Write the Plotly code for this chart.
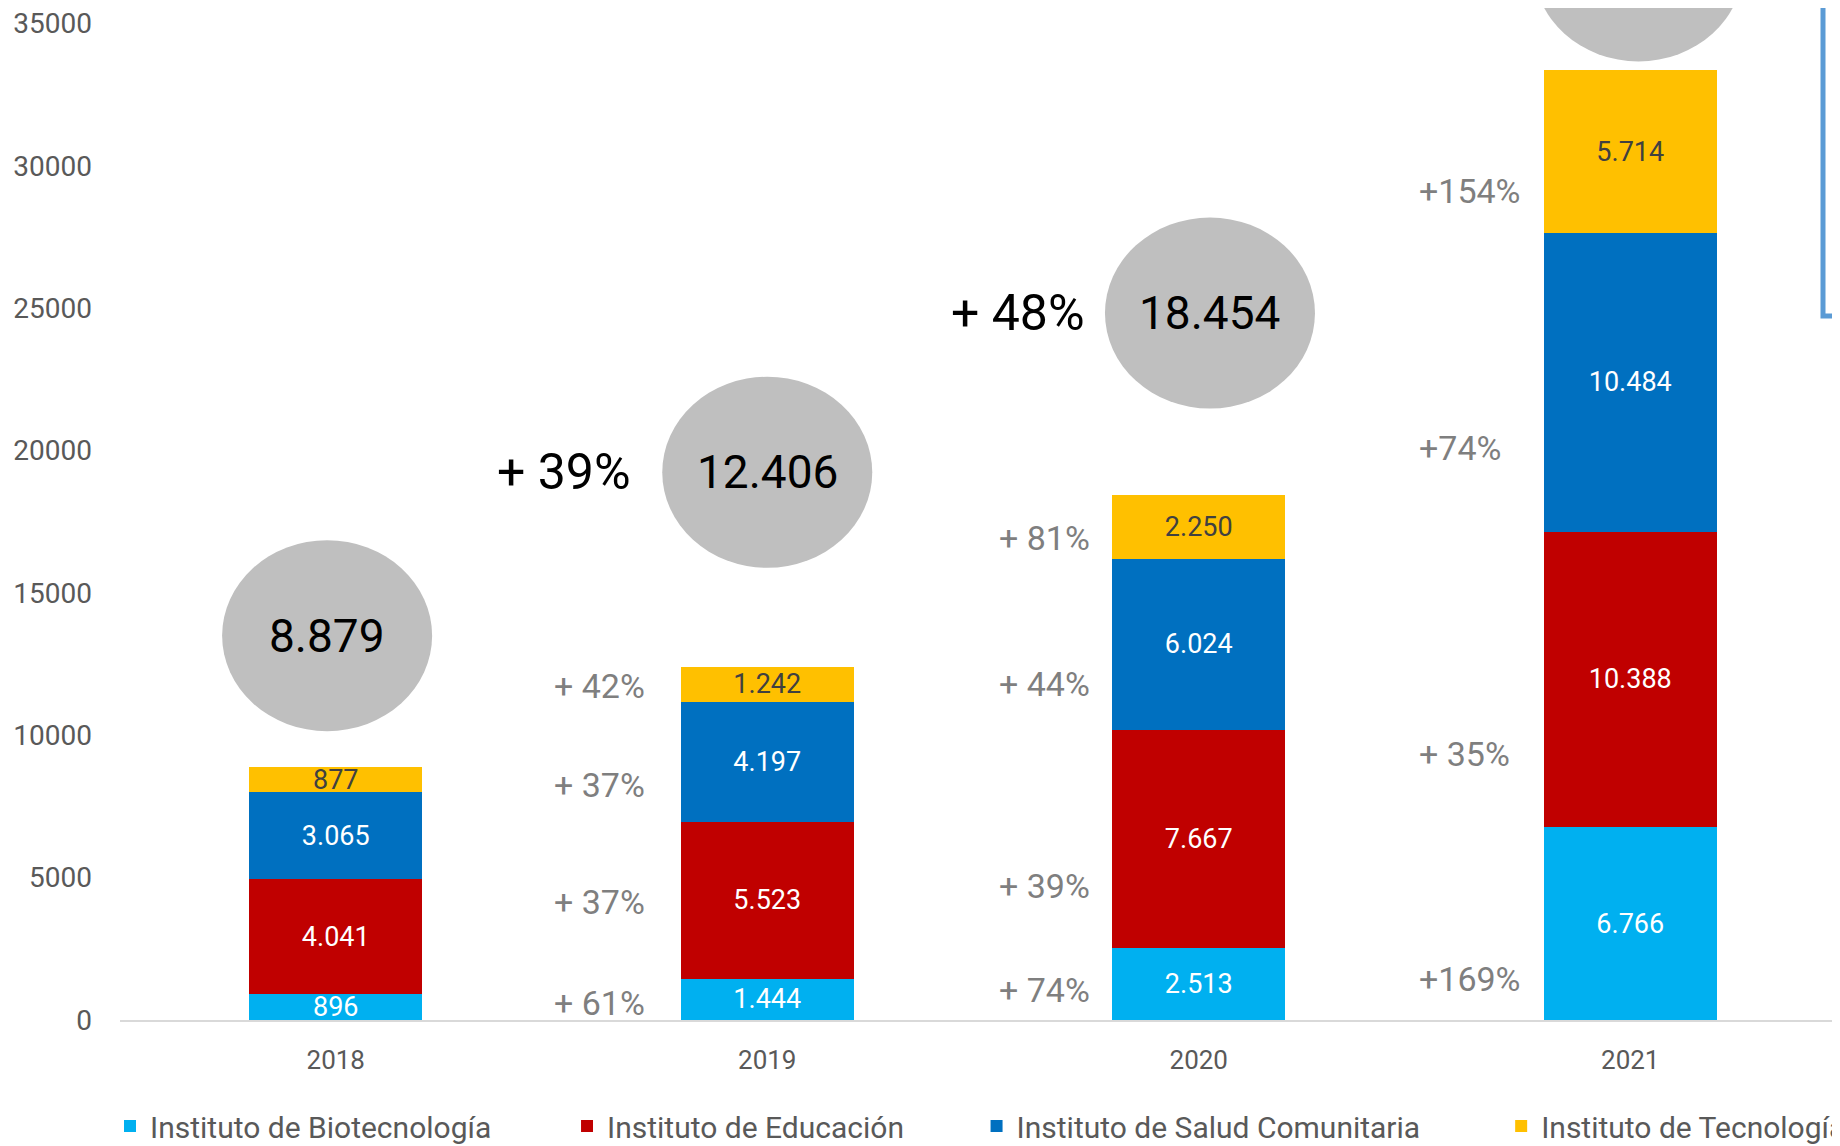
import math
import plotly.graph_objects as go

# ---------------- data ----------------
years = ["2018", "2019", "2020", "2021"]
series_names = [
    "Instituto de Biotecnología",
    "Instituto de Educación",
    "Instituto de Salud Comunitaria",
    "Instituto de Tecnología",
]
biotecnologia = [896, 1444, 2513, 6766]
educacion = [4041, 5523, 7667, 10388]
salud = [3065, 4197, 6024, 10484]
tecnologia = [877, 1242, 2250, 5714]
y_ticks = [0, 5000, 10000, 15000, 20000, 25000, 30000, 35000]

# ---------------- styles ----------------
colors = ["#00B0F0", "#C00000", "#0070C0", "#FFC000"]
seg_text_colors = ["white", "white", "white", "#404040"]
FONT = "Roboto, Arial, sans-serif"
# the page body has an 8px default margin, so the figure is sized/offset to fit
FIG_W, FIG_H = 1832, 1138
PLOT_H = 1012
PX_PER_UNIT_Y = 996.5 / 35000.0          # pixel per data unit (y)
Y_TOP = 35000 + 15.5 / PX_PER_UNIT_Y
PX_PER_CAT = 431.5
X_RANGE = [-0.5, -0.5 + 1720 / PX_PER_CAT]

series = [biotecnologia, educacion, salud, tecnologia]
totals = [sum(v) for v in zip(*series)]


def fmt(n):
    return f"{n:,}".replace(",", ".")


fig = go.Figure()
legend_ids = ["legend", "legend2", "legend3", "legend4"]
for name, vals, col, tcol, lid in zip(series_names, series, colors, seg_text_colors, legend_ids):
    fig.add_trace(go.Bar(
        x=years, y=vals, name=name,
        marker=dict(color=col, line=dict(width=0)),
        text=[fmt(v) for v in vals],
        textposition="inside", insidetextanchor="middle",
        constraintext="none",
        textfont=dict(family=FONT, size=27, color=tcol),
        width=0.4, legend=lid, hoverinfo="x+y+name",
    ))

shapes = []
annotations = []

# total bubbles (ellipses) above each bar
bubble_gap_px = [36, 99, 86, 9]          # gap between bar top and bubble bottom
bubble_dx = [-0.02, 0.0, 0.026, 0.019]   # horizontal nudge
big_dx = [None, -0.31, -0.258, -0.258]   # right edge of the "+ xx%" growth label
ell_w = 210 / PX_PER_CAT
ell_h_px = 191
for i, yr in enumerate(years):
    cy = totals[i] + (bubble_gap_px[i] + ell_h_px / 2) / PX_PER_UNIT_Y
    cx = i + bubble_dx[i]
    half_h = (ell_h_px / 2) / PX_PER_UNIT_Y
    shapes.append(dict(type="circle", xref="x", yref="y",
                       x0=cx - ell_w / 2, x1=cx + ell_w / 2,
                       y0=cy - half_h, y1=cy + half_h,
                       fillcolor="#BFBFBF", line=dict(width=0), layer="above"))
    annotations.append(dict(x=cx, y=cy, xref="x", yref="y", text=fmt(totals[i]),
                            showarrow=False, font=dict(family=FONT, size=46, color="black")))
    if i > 0:
        g = math.floor((totals[i] / totals[i - 1] - 1) * 100)
        annotations.append(dict(x=i + big_dx[i], y=cy, xref="x", yref="y",
                                text=f"+ {g}%", showarrow=False, xanchor="right",
                                font=dict(family=FONT, size=50, color="black")))

# growth labels per segment
pct_x = [None, -0.5, -0.468, -0.495]
pct_shift = [None,
             [-4, -2, -23, -2],
             [-6, -47, -40, -11],
             [-55, -75, -66, -39]]
pct_sep = [None,
           ["+ ", "+ ", "+ ", "+ "],
           ["+ ", "+ ", "+ ", "+ "],
           ["+", "+ ", "+", "+"]]
for i in range(1, len(years)):
    base = 0
    for s, vals in enumerate(series):
        g = round((vals[i] / vals[i - 1] - 1) * 100)
        center = base + vals[i] / 2
        base += vals[i]
        annotations.append(dict(x=i + pct_x[i], y=center, xref="x", yref="y",
                                text=f"{pct_sep[i][s]}{g}%", showarrow=False,
                                xanchor="left", yshift=pct_shift[i][s],
                                font=dict(family=FONT, size=34, color="#7F7F7F")))

# blue frame fragment at top right (paper coords of the plot area)
fx = (1823 - 120) / 1720
fy = (PLOT_H - (316 - 8)) / PLOT_H
shapes.append(dict(type="path", xref="paper", yref="paper",
                   path=f"M {fx},1.05 L {fx},{fy} L 1.01,{fy}",
                   line=dict(color="#5B9BD5", width=5)))

legend_x = [-0.0058, 0.2599, 0.498, 0.803]
legend_common = dict(orientation="h", yanchor="middle", y=(PLOT_H - 1118) / PLOT_H,
                     xanchor="left",
                     font=dict(family=FONT, size=30, color="#595959"),
                     bgcolor="rgba(0,0,0,0)", borderwidth=0)

fig.update_layout(
    width=FIG_W, height=FIG_H,
    margin=dict(l=112, r=0, t=0, b=FIG_H - PLOT_H, autoexpand=False),
    paper_bgcolor="white", plot_bgcolor="white",
    barmode="stack",
    bargap=0.6,
    showlegend=True,
    font=dict(family=FONT, color="#595959"),
    xaxis=dict(type="category", range=X_RANGE, showgrid=False, zeroline=False,
               showline=True, linecolor="#D9D9D9", linewidth=2,
               tickfont=dict(family=FONT, size=26, color="#595959"),
               ticks="", ticklabelstandoff=16),
    yaxis=dict(range=[0, Y_TOP], tickvals=y_ticks, ticktext=[str(t) for t in y_ticks],
               showgrid=False, zeroline=False, showline=False,
               tickfont=dict(family=FONT, size=28, color="#595959"),
               ticks="", ticklabelstandoff=27, ticklabeloverflow="allow"),
    shapes=shapes,
    annotations=annotations,
    legend=dict(x=legend_x[0], **legend_common),
    legend2=dict(x=legend_x[1], **legend_common),
    legend3=dict(x=legend_x[2], **legend_common),
    legend4=dict(x=legend_x[3], **legend_common),
)

fig.write_html("out.html")
